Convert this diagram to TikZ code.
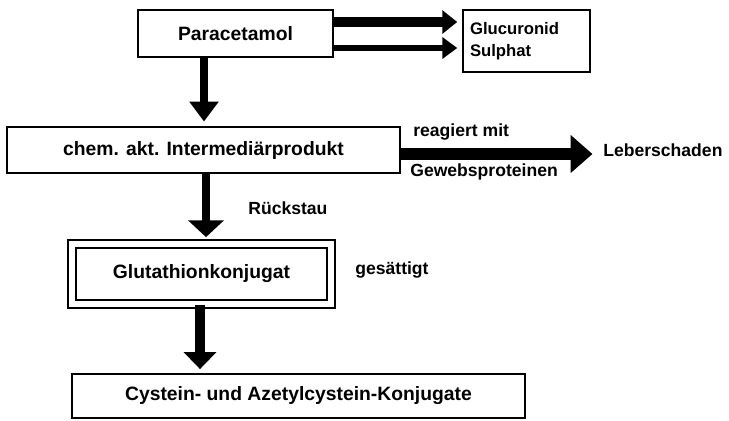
\documentclass[tikz,border=0pt]{standalone}
\usepackage{fontspec}
\setmainfont{Liberation Sans}
\usetikzlibrary{arrows.meta}

\begin{document}
\begin{tikzpicture}[x=0.02cm,y=-0.02cm,
        box/.style={draw,line width=1pt,inner sep=0pt,font=\fontsize{11}{13}\bfseries},
        lbl/.style={anchor=west,inner sep=0pt,font=\bfseries}]
        \useasboundingbox (0,0) rectangle (729,420);
        % boxes
        \node[box,minimum width=3.9cm,minimum height=0.94cm] (para) at (235.5,33.5) {Paracetamol};
        \node[box,font=\fontsize{9.5}{12.5}\bfseries,minimum width=2.54cm,minimum height=1.24cm,text width=2.26cm,align=left] (gluc) at (526.5,41) {Glucuronid\\Sulphat};
        \node[box,minimum width=7.86cm,minimum height=0.92cm] (inter) at (203.5,150) {chem. akt. Intermediärprodukt};
        \node[box,double,double distance=3.4pt,line width=1.1pt,minimum width=5.19cm,minimum height=1.19cm] (gluta) at (201.5,274) {Glutathionkonjugat};
        \node[box,minimum width=9.06cm,minimum height=0.88cm] (cyst) at (298.5,396) {Cystein- und Azetylcystein-Konjugate};
        % labels
        \node[lbl] (reag) at (413,132) {reagiert mit};
        \node[lbl] (gewe) at (410,172) {Gewebsproteinen};
        \node[lbl] (leber) at (603,150) {Leberschaden};
        \node[lbl] (rueck) at (248,208) {Rückstau};
        \node[lbl] (satt) at (355,270) {gesättigt};
        % arrows
        \draw[-{Triangle[length=8.5pt,width=13pt]},line width=5.7pt,shorten >=2.8pt] (para.east |- 0,22) -- (gluc.west |- 0,22);
        \draw[-{Triangle[length=8.5pt,width=12pt]},line width=3.4pt,shorten >=2.8pt] (para.east |- 0,48) -- (gluc.west |- 0,48);
        \draw[-{Triangle[length=11.3pt,width=16pt]},line width=4.5pt,shorten >=2.6pt] (para.south -| 204,0) -- (inter.north -| 204,0);
        \draw[-{Triangle[length=12.5pt,width=21pt]},line width=6.8pt,shorten >=6pt] (inter.east |- 0,154) -- (leber.west |- 0,154);
        \draw[-{Triangle[length=9.6pt,width=20pt]},line width=4.5pt,shorten >=3.5pt] (inter.south -| 206,0) -- (gluta.north -| 206,0);
        \draw[-{Triangle[length=9.6pt,width=18pt]},line width=5.7pt,shorten >=2.3pt] (gluta.south -| 200,0) -- (cyst.north -| 200,0);
\end{tikzpicture}
\end{document}
